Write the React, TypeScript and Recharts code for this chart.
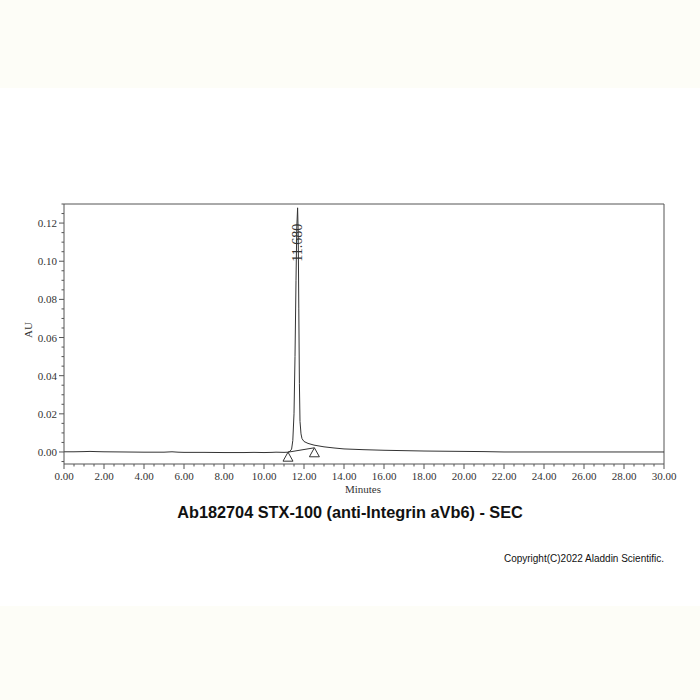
import React from 'react';
import { ComposedChart, Line, Scatter, XAxis, YAxis, ReferenceLine, ReferenceDot } from 'recharts';

// Chromatogram trace (minutes, AU)
const times = [
  0, 0.5, 1.0, 1.3, 1.6, 2.0, 3.0, 4.0, 5.0, 5.4, 5.7, 6.0, 7.0, 8.0, 9.0, 9.5, 10.0, 10.4, 10.6, 11.0,
  11.2, 11.3, 11.38, 11.44, 11.5, 11.55, 11.6, 11.64, 11.68, 11.71, 11.74, 11.77, 11.8, 11.85, 11.9,
  12.0, 12.2, 12.5, 13.0, 13.5, 14.0, 15.0, 16.0, 17.0, 18.0, 19.0, 20.0, 21.0, 22.0, 23.0, 25.0, 27.0, 30.0,
];
const absorbance = [
  0.0001, 0.0001, 0.0002, 0.0003, 0.0002, 0.0001, 0.0, -0.0001, -0.0001, 0.0001, -0.0001, -0.0002, -0.0002, -0.0003, -0.0003, -0.0002, -0.0003, -0.0002, -0.0001, -0.0002,
  -0.0001, 0.0004, 0.0015, 0.006, 0.02, 0.05, 0.09, 0.118, 0.128, 0.115, 0.075, 0.036, 0.016, 0.0095, 0.007,
  0.0055, 0.0045, 0.0036, 0.0027, 0.0021, 0.0016, 0.0012, 0.0009, 0.0007, 0.0005, 0.0004, 0.0003, 0.0002, 0.0, 0.0, 0.0, 0.0, 0.0,
];

// Integration baseline and its start / end markers
const baselineTimes = [11.2, 12.52];
const baselineValues = [-0.0001, 0.0022];

const peakTime = 11.68;
const peakHeight = 0.128;
const peakLabel = '11.680';

const xMajorLabels = ['0.00', '2.00', '4.00', '6.00', '8.00', '10.00', '12.00', '14.00', '16.00', '18.00', '20.00', '22.00', '24.00', '26.00', '28.00', '30.00'];
const yMajorLabels = ['0.00', '0.02', '0.04', '0.06', '0.08', '0.10', '0.12'];

const xMajor = xMajorLabels.map(Number);
const yMajor = yMajorLabels.map(Number);
const xTicks: number[] = [];
for (let i = 0; i <= 60; i++) xTicks.push(i * 0.5);
const yTicks: number[] = [];
for (let i = -1; i <= 26; i++) yTicks.push(Math.round(i * 0.005 * 1000) / 1000);

const trace = times.map((t, i) => ({ t, v: absorbance[i] }));
const baseline = baselineTimes.map((t, i) => ({ t, v: baselineValues[i] }));

const AXIS = '#555';
const INK = '#333';
const SERIF = '"Liberation Serif", "DejaVu Serif", serif';

const isMajor = (v: number, majors: number[]) => majors.some((m) => Math.abs(m - v) < 1e-6);

const XTick = (props: any) => {
  const { x, y, payload } = props;
  const v = payload.value;
  const major = isMajor(v, xMajor);
  const label = major ? xMajorLabels[xMajor.findIndex((m) => Math.abs(m - v) < 1e-6)] : '';
  return (
    <g>
      <line x1={x} y1={y} x2={x} y2={y + (major ? 5 : 2.5)} stroke={AXIS} strokeWidth={1} />
      {major && (
        <text x={x} y={y + 16} textAnchor="middle" fontFamily={SERIF} fontSize={11} fill={INK}>
          {label}
        </text>
      )}
    </g>
  );
};

const YTick = (props: any) => {
  const { x, y, payload } = props;
  const v = payload.value;
  const major = isMajor(v, yMajor);
  const label = major ? yMajorLabels[yMajor.findIndex((m) => Math.abs(m - v) < 1e-6)] : '';
  return (
    <g>
      <line x1={x} y1={y} x2={x - (major ? 5 : 2.5)} y2={y} stroke={AXIS} strokeWidth={1} />
      {major && (
        <text x={x - 7} y={y + 4} textAnchor="end" fontFamily={SERIF} fontSize={11} fill={INK}>
          {label}
        </text>
      )}
    </g>
  );
};

const Triangle = (props: any) => {
  const { cx, cy } = props;
  if (cx == null || cy == null) return null;
  return <polygon points={`${cx},${cy} ${cx - 5},${cy + 9} ${cx + 5},${cy + 9}`} fill="none" stroke={INK} strokeWidth={1} />;
};

const PeakLabel = (props: any) => {
  const { cx, cy } = props;
  if (cx == null || cy == null) return null;
  const ly = cy + 35;
  return (
    <text
      x={cx}
      y={ly}
      transform={`rotate(-90 ${cx} ${ly})`}
      textAnchor="middle"
      dominantBaseline="central"
      fontFamily={SERIF}
      fontSize={14}
      fill={INK}
    >
      {peakLabel}
    </text>
  );
};

export default function App() {
  return (
    <div style={{ position: 'absolute', left: 0, top: 0, width: 700, height: 700, background: '#ffffff', overflow: 'hidden' }}>
      <div style={{ position: 'absolute', left: 0, top: 0, width: 700, height: 88, background: '#fdfdf7' }} />
      <div style={{ position: 'absolute', left: 0, top: 606, width: 700, height: 94, background: '#fdfdf7' }} />
      <div style={{ position: 'absolute', left: 0, top: 0 }}>
        <ComposedChart width={700} height={700} margin={{ top: 204, right: 36, bottom: 206, left: 14 }}>
          <XAxis
            type="number"
            dataKey="t"
            domain={[0, 30]}
            ticks={xTicks}
            interval={0}
            height={30}
            tickSize={0}
            tickMargin={0}
            tickLine={false}
            tick={<XTick />}
            stroke={AXIS}
            allowDataOverflow
          />
          <YAxis
            type="number"
            domain={[-0.0063, 0.13]}
            ticks={yTicks}
            interval={0}
            width={50}
            tickSize={0}
            tickMargin={0}
            tickLine={false}
            tick={<YTick />}
            stroke={AXIS}
            allowDataOverflow
          />
          <ReferenceLine y={0.13} stroke={AXIS} strokeWidth={1} />
          <ReferenceLine x={30} stroke={AXIS} strokeWidth={1} />
          <Line data={trace} dataKey="v" type="linear" stroke={INK} strokeWidth={1} dot={false} isAnimationActive={false} />
          <Line data={baseline} dataKey="v" type="linear" stroke={INK} strokeWidth={1} dot={false} isAnimationActive={false} />
          <Scatter data={baseline} dataKey="v" shape={<Triangle />} isAnimationActive={false} />
          <ReferenceDot x={peakTime} y={peakHeight} r={0} shape={<PeakLabel />} />
        </ComposedChart>
      </div>
      <div style={{ position: 'absolute', left: 20, top: 322, width: 16, height: 16, display: 'flex', alignItems: 'center', justifyContent: 'center' }}>
        <span style={{ transform: 'rotate(-90deg)', fontFamily: SERIF, fontSize: 11, color: INK, whiteSpace: 'nowrap' }}>AU</span>
      </div>
      <div style={{ position: 'absolute', left: 313, top: 483, width: 100, textAlign: 'center', fontFamily: SERIF, fontSize: 11, color: INK }}>Minutes</div>
      <div style={{ position: 'absolute', left: 0, top: 503, width: 700, textAlign: 'center', fontFamily: '"Liberation Sans", Arial, sans-serif', fontWeight: 'bold', fontSize: 16.3, color: '#111' }}>
        Ab182704 STX-100 (anti-Integrin aVb6) - SEC
      </div>
      <div style={{ position: 'absolute', right: 36, top: 553, fontFamily: '"Liberation Sans", Arial, sans-serif', fontSize: 10, color: '#111', whiteSpace: 'nowrap' }}>
        Copyright(C)2022 Aladdin Scientific.
      </div>
    </div>
  );
}
